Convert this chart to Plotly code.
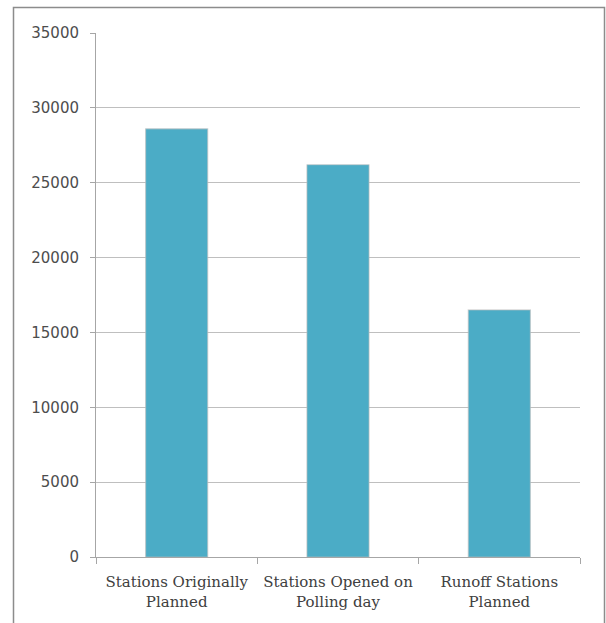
import plotly.graph_objects as go

categories = ["Stations Originally<br>Planned", "Stations Opened on<br>Polling day", "Runoff Stations<br>Planned"]
values = [28600, 26200, 16500]
y_ticks = [0, 5000, 10000, 15000, 20000, 25000, 30000, 35000]

fig = go.Figure()
fig.add_trace(go.Bar(
    x=categories, y=values,
    marker=dict(color="#4BACC6", line=dict(color="rgba(190,190,190,0.6)", width=1.2)),
))

W, H = 606, 623
L, R, T, B = 96, 26, 33, 66
pw, ph = W - L - R, H - T - B

def px(x):
    return (x - L) / pw

def py(y):
    return (H - B - y) / ph

fig.update_layout(
    width=W, height=H,
    margin=dict(l=L, r=R, t=T, b=B),
    paper_bgcolor="white", plot_bgcolor="white",
    bargap=0.615,
    showlegend=False,
    xaxis=dict(
        showline=True, linecolor="#A6A6A6", linewidth=1,
        ticks="outside", tickson="boundaries", ticklen=6, tickcolor="#A6A6A6",
        tickfont=dict(family="DejaVu Serif", size=15, color="#404040"),
        ticklabelstandoff=11,
        showgrid=False,
    ),
    yaxis=dict(
        range=[0, 35000], tickvals=y_ticks, ticktext=[str(v) for v in y_ticks],
        showline=True, linecolor="#A6A6A6", linewidth=1,
        ticks="outside", ticklen=5, tickcolor="#A6A6A6",
        showgrid=True, gridcolor="#BFBFBF", gridwidth=1,
        tickfont=dict(family="DejaVu Sans", size=15, color="#4D4D4D"),
        ticklabelstandoff=8,
        zeroline=False,
    ),
    shapes=[dict(
        type="rect", xref="paper", yref="paper",
        x0=px(13.5), x1=px(604.5), y0=py(640), y1=py(7.5),
        line=dict(color="#8C8C8C", width=1.5), fillcolor="rgba(0,0,0,0)",
        layer="below",
    )],
)

fig.write_html("out.html")
